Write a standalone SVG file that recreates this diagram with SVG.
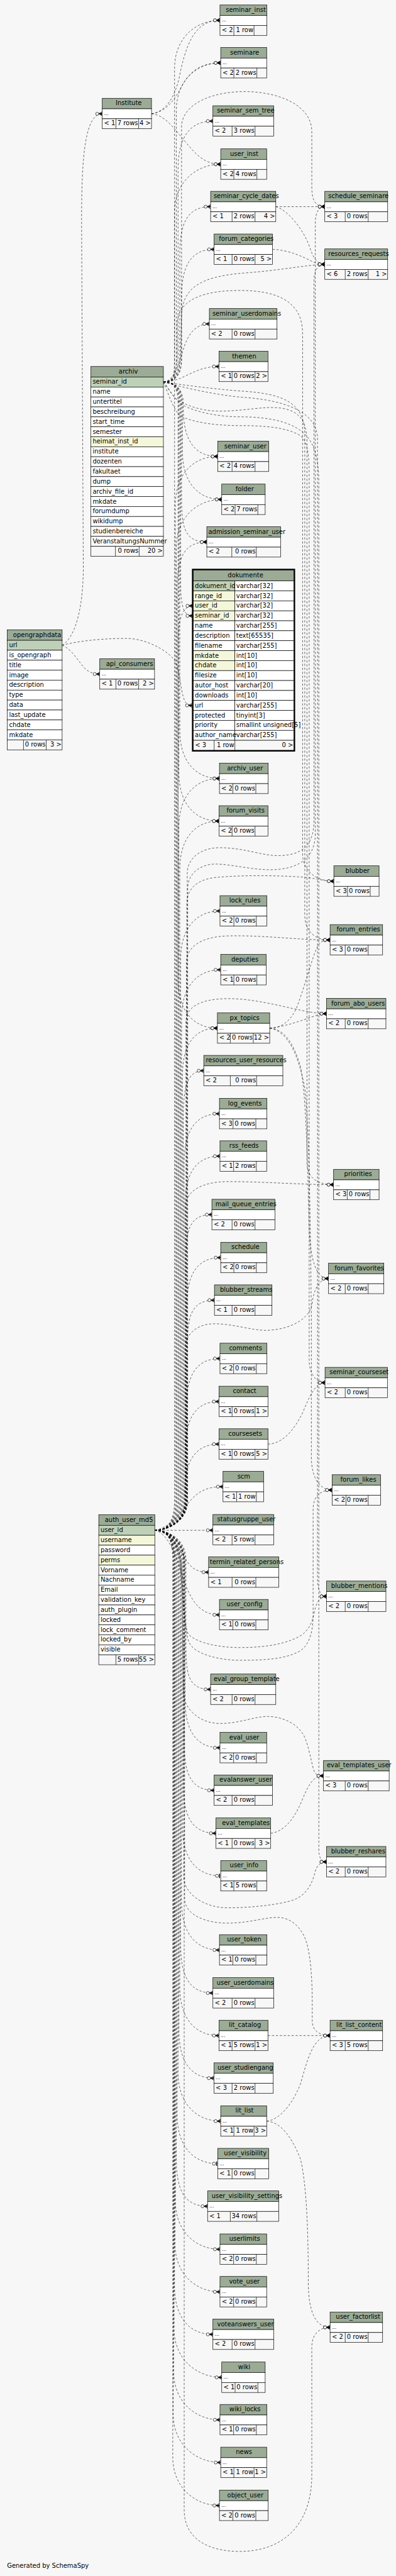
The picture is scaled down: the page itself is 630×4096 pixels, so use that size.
<svg xmlns="http://www.w3.org/2000/svg" width="630" height="4096" viewBox="0 0 630 4096">
<style>
.h{fill:#9bab96;stroke:#000;stroke-width:1}
.b{fill:#fff;stroke:#000;stroke-width:1}
.k{fill:#bed1b8;stroke:#000;stroke-width:1}
.y{fill:#f4f7da;stroke:#000;stroke-width:1}
.f{fill:#f7f7f7;stroke:#000;stroke-width:1}
.s{stroke:#000;fill:none;stroke-width:1}
text{font-family:"DejaVu Sans","Liberation Sans",sans-serif;font-size:14.3px;fill:#000}
.d{font-size:11px}
.e{text-anchor:end}
.c{fill:none;stroke:#000;stroke-width:0.85;stroke-dasharray:5 4;marker-end:url(#cr)}
.o{marker-end:url(#on)}
</style>
<defs>
<marker id="cr" markerUnits="userSpaceOnUse" viewBox="-18 -6 19 12" refX="0" refY="0" markerWidth="19" markerHeight="12" orient="auto" overflow="visible">
<path d="M0,-4.5 L-8,0 L0,4.5 M-8,0 H0" fill="none" stroke="#000" stroke-width="1.3"/>
<path d="M-1,-2.5 L-7,0 L-1,2.5Z" fill="#000"/>
<circle cx="-11.5" cy="0" r="3.5" fill="#fff" stroke="#000" stroke-width="1"/>
</marker>
<marker id="on" markerUnits="userSpaceOnUse" viewBox="-18 -6 19 12" refX="0" refY="0" markerWidth="19" markerHeight="12" orient="auto" overflow="visible">
<path d="M-2.5,-5 V5" fill="none" stroke="#000" stroke-width="2"/>
<circle cx="-8.5" cy="0" r="3.5" fill="#fff" stroke="#000" stroke-width="1"/>
</marker>
</defs>
<rect x="0" y="0" width="630" height="4096" fill="#f7f7f7"/>
<g transform="scale(0.69767)">
<g id="connectors">
<path class="c" d="M372.6,870.6 C395,870.6 398,860 398,820 L398,156.3 C398,86.3 446.6,46.3 501.6,46.3"/>
<path class="c" d="M372.6,870.6 C395,870.6 402,860 402,820 L402,253.3 C402,183.3 448.3,143.3 503.3,143.3"/>
<path class="c" d="M372.6,870.6 C395,870.6 406,860 406,820 L406,386 C406,316 430.5,276 485.5,276"/>
<path class="c" d="M372.6,870.6 C395,870.6 410,860 410,820 L410,581 C410,511 425.3,471 480.3,471"/>
<path class="c" d="M372.6,870.6 C395,870.6 414,860 414,820 L414,678.3 C414,608.3 433.3,568.3 488.3,568.3"/>
<path class="c" d="M372.6,870.6 C400,868 410,820 420,790 C432,755 450,738.3 477.4,738.3"/>
<path class="c" d="M372.6,870.6 C420,870 440,835.3 499.3,835.3"/>
<path class="c" d="M372.6,870.6 C395,870.6 418,882 418,920 L418,930.3 C418,1000.3 441.4,1040.3 496.4,1040.3"/>
<path class="c" d="M372.6,870.6 C395,870.6 416,882 416,920 L416,1028.3 C416,1098.3 450.6,1138.3 505.6,1138.3"/>
<path class="c" d="M372.6,870.6 C395,870.6 414,882 414,920 L414,1125.3 C414,1195.3 416.6,1235.3 471.6,1235.3"/>
<path class="c" d="M372.6,870.6 C395,870.6 412,882 412,920 L412,1330 C412,1385 420,1403.6 439,1403.6"/>
<path class="c" d="M372.6,870.6 C395,870.6 410,882 410,920 L410,1664.3 C410,1734.3 445.4,1774.3 500.4,1774.3"/>
<path class="c" d="M372.6,870.6 C395,870.6 408,882 408,920 L408,1761.3 C408,1831.3 444.3,1871.3 499.3,1871.3"/>
<path class="c" d="M372.6,870.6 C395,870.6 406,882 406,920 L406,2233.3 C406,2303.3 440.8,2343.3 495.8,2343.3"/>
<path class="c" d="M372.6,870.6 C397,870.6 414,855 414,815 L414,290 C414,180 711,180 711,300 L711,425 C711,455 718,471 740.6,471"/>
<path class="c" d="M372.6,870.6 C397,870.6 412,850 412,800 L414,720 C416,660 450,630 560,622 C640,616 690,605 740.6,602.3"/>
<path class="c" d="M372.6,870.6 C395,870.6 404,850 404,800 L404,740 C404,680 470,662 547,662 C620,662 690,680 690,760 L690,1945 C690,1985 720,2008.3 761.3,2008.3"/>
<path class="c" d="M372.6,870.6 C420,878 500,888 560,892 C640,898 695,915 695,990 L695,2085 C695,2120 715,2142.3 752.7,2142.3"/>
<path class="c" d="M372.6,870.6 C385,885 395,910 415,917 C440,930 470,937 500,937 C560,937 600,925 640,930 C680,936 700,955 700,1010 L700,2650 C700,2685 725,2700 760.7,2700"/>
<path class="c" d="M372.6,870.6 C385,900 400,945 415,950 C450,965 500,970 547,970 C610,970 650,975 680,990 C700,1000 705,1030 705,1080 L705,3100 C705,3130 720,3151.3 741.2,3151.3"/>
<path class="c" d="M372.6,870.6 C420,884 500,902 560,906 C640,912 724,935 724,1000 L724,3595 C724,3622 730,3638.3 744.6,3638.3"/>
<path class="c" d="M372.6,870.6 C390,892 400,915 420,925 C450,940 500,950 547,950 C610,950 660,960 690,985 C715,1005 727,1040 727,1100 L727,4215 C727,4233 732,4243.3 744.6,4243.3"/>
<path class="c" d="M353,3487.7 C380,3487.7 398,3470 398,3420 L398,484.3 C398,414.3 448.3,374.3 503.3,374.3"/>
<path class="c" d="M353,3487.7 C380,3487.7 400,3470 400,3420 L400,1150.3 C400,1080.3 441.4,1040.3 496.4,1040.3"/>
<path class="c" d="M353,3487.7 C380,3487.7 402,3470 402,3420 L402,1248.3 C402,1178.3 450.6,1138.3 505.6,1138.3"/>
<path class="c" d="M353,3487.7 C380,3487.7 404,3470 404,3420 L404,1345.3 C404,1275.3 416.6,1235.3 471.6,1235.3"/>
<path class="c" d="M353,3487.7 C380,3487.7 406,3470 406,3420 L406,1460 C406,1405 420,1380.8 439,1380.8"/>
<path class="c" d="M353,3487.7 C380,3487.7 408,3470 408,3420 L408,1884.3 C408,1814.3 445.4,1774.3 500.4,1774.3"/>
<path class="c" d="M353,3487.7 C380,3487.7 410,3470 410,3420 L410,1981.3 C410,1911.3 444.3,1871.3 499.3,1871.3"/>
<path class="c" d="M353,3487.7 C380,3487.7 412,3470 412,3420 L412,2186.3 C412,2116.3 446.6,2076.3 501.6,2076.3"/>
<path class="c" d="M353,3487.7 C380,3487.7 414,3470 414,3420 L414,2320.3 C414,2250.3 448.3,2210.3 503.3,2210.3"/>
<path class="c" d="M353,3487.7 C380,3487.7 416,3470 416,3420 L416,2453.3 C416,2383.3 440.8,2343.3 495.8,2343.3"/>
<path class="c" d="M353,3487.7 C380,3487.7 418,3470 418,3420 L418,2550.3 C418,2480.3 425,2440.3 464.7,2440.3"/>
<path class="c" d="M353,3487.7 C380,3487.7 420,3470 420,3420 L420,2648.3 C420,2578.3 445.4,2538.3 500.4,2538.3"/>
<path class="c" d="M353,3487.7 C380,3487.7 422,3470 422,3420 L422,2745 C422,2675 446.6,2635 501.6,2635"/>
<path class="c" d="M353,3487.7 C380,3487.7 424,3470 424,3420 L424,2878.3 C424,2808.3 428.2,2768.3 483.2,2768.3"/>
<path class="c" d="M353,3487.7 C380,3487.7 426,3470 426,3420 L426,2976.3 C426,2906.3 448.3,2866.3 503.3,2866.3"/>
<path class="c" d="M353,3487.7 C380,3487.7 427,3470 427,3420 L427,3073.3 C427,3003.3 434,2963.3 489,2963.3"/>
<path class="c" d="M353,3487.7 C380,3487.7 425,3470 425,3420 L425,3206.3 C425,3136.3 446.6,3096.3 501.6,3096.3"/>
<path class="c" d="M353,3487.7 C380,3487.7 423,3470 423,3420 L423,3304.3 C423,3234.3 444.3,3194.3 499.3,3194.3"/>
<path class="c" d="M353,3487.7 C380,3487.7 421,3470 421,3420 L421,3401.3 C421,3331.3 444.3,3291.3 499.3,3291.3"/>
<path class="c" d="M353,3487.7 C390,3480 410,3450 430,3425 C450,3400 470,3388.3 508.5,3388.3"/>
<path class="c" d="M353,3487.7 L485.5,3487.7"/>
<path class="c" d="M353,3487.7 C395,3492 415,3545 432,3566 C445,3580 458,3583.3 475.7,3583.3"/>
<path class="c" d="M353,3487.7 C390,3495 408,3570 422,3610 C440,3655 460,3680.3 500.4,3680.3"/>
<path class="c" d="M353,3487.7 C380,3487.7 424,3505 424,3555 L424,3740.3 C424,3810.3 425.3,3850.3 480.3,3850.3"/>
<path class="c" d="M353,3487.7 C380,3487.7 422,3505 422,3555 L422,3873.3 C422,3943.3 446.6,3983.3 501.6,3983.3"/>
<path class="c" d="M353,3487.7 C380,3487.7 420,3505 420,3555 L420,3970.3 C420,4040.3 433.3,4080.3 488.3,4080.3"/>
<path class="c" d="M353,3487.7 C380,3487.7 418,3505 418,3555 L418,4068.3 C418,4138.3 437.4,4178.3 492.4,4178.3"/>
<path class="c o" d="M353,3487.7 C380,3487.7 416,3505 416,3555 L416,4165.3 C416,4235.3 448.3,4275.3 503.3,4275.3"/>
<path class="c" d="M353,3487.7 C380,3487.7 414,3505 414,3555 L414,4334.3 C414,4404.3 445.4,4444.3 500.4,4444.3"/>
<path class="c" d="M353,3487.7 C380,3487.7 412,3505 412,3555 L412,4432.3 C412,4502.3 430.5,4542.3 485.5,4542.3"/>
<path class="c" d="M353,3487.7 C380,3487.7 410,3505 410,3555 L410,4529.3 C410,4599.3 444.3,4639.3 499.3,4639.3"/>
<path class="c" d="M353,3487.7 C380,3487.7 408,3505 408,3555 L408,4626.3 C408,4696.3 432.8,4736.3 487.8,4736.3"/>
<path class="c" d="M353,3487.7 C380,3487.7 406,3505 406,3555 L406,4724.3 C406,4794.3 448.3,4834.3 503.3,4834.3"/>
<path class="c o" d="M353,3487.7 C380,3487.7 404,3505 404,3555 L404,4821.3 C404,4891.3 441.4,4931.3 496.4,4931.3"/>
<path class="c" d="M353,3487.7 C380,3487.7 402,3505 402,3555 L402,4918.3 C402,4988.3 418.4,5028.3 473.4,5028.3"/>
<path class="c" d="M353,3487.7 C380,3487.7 400,3505 400,3555 L400,5016.3 C400,5086.3 446.6,5126.3 501.6,5126.3"/>
<path class="c" d="M353,3487.7 C380,3487.7 399,3505 399,3555 L399,5113.3 C399,5183.3 446.6,5223.3 501.6,5223.3"/>
<path class="c" d="M353,3487.7 C380,3487.7 398,3505 398,3555 L398,5210.3 C398,5280.3 430.5,5320.3 485.5,5320.3"/>
<path class="c" d="M353,3487.7 C380,3487.7 397,3505 397,3555 L397,5308.3 C397,5378.3 450.6,5418.3 505.6,5418.3"/>
<path class="c" d="M353,3487.7 C380,3487.7 396,3505 396,3555 L396,5405 C396,5475 446.6,5515 501.6,5515"/>
<path class="c" d="M353,3487.7 C380,3487.7 395,3505 395,3555 L395,5502.3 C395,5572.3 448.3,5612.3 503.3,5612.3"/>
<path class="c" d="M353,3487.7 C380,3487.7 394,3505 394,3555 L394,5600.3 C394,5670.3 445.4,5710.3 500.4,5710.3"/>
<path class="c" d="M353,3487.7 C380,3487.7 428,3470 428,3420 L428,2025 C428,1995 450,1975 480,1970 C510,1966 560,1980 605,1982 C650,1984 719,1975 719,1900 L719,510 C719,485 726,471 740.6,471"/>
<path class="c" d="M353,3487.7 C380,3487.7 427,3470 427,3420 L427,1990 C427,1955 460,1932 500,1932 C560,1932 600,1952 640,1950 C690,1948 716,1925 716,1870 L716,640 C716,615 726,602.3 740.6,602.3"/>
<path class="c" d="M353,3487.7 C380,3487.7 426,3470 426,3420 L426,2060 C426,2025 450,2005 490,2000 C560,1993 660,1996 700,2000 C725,2003 742,2008.3 761.3,2008.3"/>
<path class="c" d="M353,3487.7 C380,3487.7 425,3470 425,3420 L425,2195 C425,2160 455,2135 520,2133 C600,2131 680,2142.3 752.7,2142.3"/>
<path class="c" d="M353,3487.7 C380,3487.7 424,3470 424,3420 L424,2330 C424,2295 455,2277 518,2276 C600,2275 690,2310.3 744.6,2310.3"/>
<path class="c" d="M353,3487.7 C380,3487.7 423,3470 423,3420 L423,2750 C423,2715 460,2693 520,2693 C600,2693 690,2700 760.7,2700"/>
<path class="c" d="M353,3487.7 C380,3487.7 422,3470 422,3420 L422,3075 C422,3040 450,3017 489,3017 C530,3017 575,3032 605,3032 C645,3032 705,3015 712,2970 C716,2935 730,2914 749.2,2914"/>
<path class="c" d="M353,3487.7 C380,3487.7 405,3510 412,3560 C420,3640 420,3720 432,3745 C445,3770 500,3784 547,3784 C610,3784 650,3780 680,3765 C700,3755 714,3730 714,3680 L714,3440 C714,3410 730,3396 757.3,3396"/>
<path class="c" d="M353,3487.7 C380,3487.7 403,3510 410,3560 C417,3630 418,3705 430,3725 C450,3745 500,3755 547,3755 C610,3755 660,3745 690,3725 C705,3712 712,3698 716,3678 C720,3655 728,3638.3 744.6,3638.3"/>
<path class="c" d="M353,3487.7 C380,3487.7 413,3510 415,3580 L418,3860 C422,3900 460,3928 501,3928 C547,3928 580,3912 610,3912 C645,3912 685,3930 697,3965 C708,3995 712,4030 718,4040 C722,4046 728,4047.3 737.7,4047.3"/>
<path class="c" d="M353,3487.7 C380,3487.7 419,3510 419,3560 L419,4280 C422,4320 470,4348 518,4348 C580,4348 640,4340 670,4330 C700,4318 712,4292 718,4268 C722,4252 730,4243.3 744.6,4243.3"/>
<path class="c" d="M353,3487.7 C380,3487.7 421,3510 421,3560 L421,4330 C424,4365 470,4383 518,4383 C570,4383 600,4370 633,4370 C665,4370 690,4395 700,4430 C710,4470 712,4520 712,4570 L712,4605 C712,4628 728,4639.3 752.7,4639.3"/>
<path class="c" d="M353,3487.7 C380,3487.7 420,3510 420,3560 L420,5720 C420,5790 480,5815 547,5815 C640,5815 711,5760 711,5640 L711,5350 C711,5320 728,5304.3 752.7,5304.3"/>
<path class="c" d="M628.9,471 L740.6,471"/>
<path class="c" d="M628.9,471 C655,478 690,520 705,560 C713,585 722,602.3 740.6,602.3"/>
<path class="c" d="M621.4,568.3 C660,570 690,585 710,595 C720,600 728,602.3 740.6,602.3"/>
<path class="c" d="M615,2343.3 C640,2343 660,2330 675,2300 C695,2250 712,2180 725,2155 C730,2146 740,2142.3 752.7,2142.3"/>
<path class="c" d="M615,2343.3 C650,2340 690,2325 710,2318 C725,2313 735,2310.3 744.6,2310.3"/>
<path class="c" d="M615,2343.3 C650,2345 670,2380 685,2430 C700,2500 702,2700 705,2800 C708,2870 720,2914 749.2,2914"/>
<path class="c" d="M615,2343.3 C655,2350 680,2400 695,2480 C705,2560 708,2800 710,3000 L710,3320 C710,3370 730,3396 757.3,3396"/>
<path class="c" d="M611,3291.3 C645,3290 670,3260 690,3220 C705,3185 718,3151.3 741.2,3151.3"/>
<path class="c" d="M617.3,4178.3 C645,4175 670,4150 690,4100 C705,4065 715,4047.3 737.7,4047.3"/>
<path class="c" d="M611,4639.3 L752.7,4639.3"/>
<path class="c" d="M608.1,4834.3 C635,4832 665,4800 685,4750 C700,4700 712,4639.3 752.7,4639.3"/>
<path class="c" d="M608.1,4834.3 C640,4836 665,4870 685,4920 C700,4980 703,5100 703,5200 C703,5270 720,5304.3 752.7,5304.3"/>
<path class="c" d="M345.5,259.3 C380,254 398,220 408,180 C422,110 440,46.3 501.6,46.3"/>
<path class="c" d="M345.5,259.3 C380,255 400,225 415,195 C435,160 460,143.3 503.3,143.3"/>
<path class="c" d="M345.5,259.3 C375,262 395,290 420,320 C445,350 465,374.3 503.3,374.3"/>
<path class="c" d="M141.7,1470.6 C160,1460 188,1420 190,1300 L186,500 C186,350 195,259.3 233.2,259.3"/>
<path class="c" d="M141.7,1470.6 C165,1480 180,1510 195,1525 C205,1533 215,1536.3 227.5,1536.3"/>
<path class="c" d="M141.7,1470.6 C190,1458 250,1455 288,1455 C330,1455 380,1480 398,1505 C412,1530 412,1590 425,1603 C430,1607 434,1607.7 438,1607.7"/>
</g>
<g id="Institute"><rect class="h" x="233.2" y="224" width="112.3" height="24"/><text x="263.8" y="240">Institute</text><rect class="b" x="233.2" y="248" width="112.3" height="22.7"/><text class="d" x="237.2" y="262">...</text><rect class="f" x="233.2" y="270.7" width="112.3" height="22.7"/><path class="s" d="M264.3,270.7v22.7M316.2,270.7v22.7"/><text x="237.2" y="285.7">&lt; 1</text><text class="e" x="314.7" y="285.7">7 rows</text><text class="e" x="344" y="285.7">4 &gt;</text></g>
<g id="api_consumers"><rect class="h" x="227.5" y="1501.3" width="124.9" height="24"/><text x="241.9" y="1517.3">api_consumers</text><rect class="b" x="227.5" y="1525.3" width="124.9" height="22.7"/><text class="d" x="231.5" y="1539.3">...</text><rect class="f" x="227.5" y="1548" width="124.9" height="22.7"/><path class="s" d="M264.3,1548v22.7M316.2,1548v22.7"/><text x="231.5" y="1563">&lt; 1</text><text class="e" x="314.7" y="1563">0 rows</text><text class="e" x="350.9" y="1563">2 &gt;</text></g>
<g id="archiv"><rect class="h" x="207.3" y="835.3" width="165.3" height="24"/><text x="270.7" y="851.3">archiv</text>
<rect class="k" x="207.3" y="859.3" width="165.3" height="22.7"/><text x="211.3" y="875">seminar_id</text>
<rect class="b" x="207.3" y="882" width="165.3" height="22.7"/><text x="211.3" y="897.7">name</text>
<rect class="b" x="207.3" y="904.7" width="165.3" height="22.7"/><text x="211.3" y="920.4">untertitel</text>
<rect class="b" x="207.3" y="927.4" width="165.3" height="22.7"/><text x="211.3" y="943.1">beschreibung</text>
<rect class="b" x="207.3" y="950.1" width="165.3" height="22.7"/><text x="211.3" y="965.8">start_time</text>
<rect class="b" x="207.3" y="972.8" width="165.3" height="22.7"/><text x="211.3" y="988.5">semester</text>
<rect class="y" x="207.3" y="995.5" width="165.3" height="22.7"/><text x="211.3" y="1011.2">heimat_inst_id</text>
<rect class="b" x="207.3" y="1018.2" width="165.3" height="22.7"/><text x="211.3" y="1033.9">institute</text>
<rect class="b" x="207.3" y="1040.9" width="165.3" height="22.7"/><text x="211.3" y="1056.6">dozenten</text>
<rect class="b" x="207.3" y="1063.6" width="165.3" height="22.7"/><text x="211.3" y="1079.3">fakultaet</text>
<rect class="b" x="207.3" y="1086.3" width="165.3" height="22.7"/><text x="211.3" y="1102">dump</text>
<rect class="b" x="207.3" y="1109" width="165.3" height="22.7"/><text x="211.3" y="1124.7">archiv_file_id</text>
<rect class="b" x="207.3" y="1131.7" width="165.3" height="22.7"/><text x="211.3" y="1147.4">mkdate</text>
<rect class="b" x="207.3" y="1154.4" width="165.3" height="22.7"/><text x="211.3" y="1170.1">forumdump</text>
<rect class="b" x="207.3" y="1177.1" width="165.3" height="22.7"/><text x="211.3" y="1192.8">wikidump</text>
<rect class="b" x="207.3" y="1199.8" width="165.3" height="22.7"/><text x="211.3" y="1215.5">studienbereiche</text>
<rect class="b" x="207.3" y="1222.5" width="165.3" height="22.7"/><text x="211.3" y="1238.2">VeranstaltungsNummer</text>
<rect class="f" x="207.3" y="1245.2" width="165.3" height="22.7"/><path class="s" d="M263.2,1245.2v22.7M317.3,1245.2v22.7"/><text class="e" x="315.8" y="1260.2">0 rows</text><text class="e" x="371.1" y="1260.2">20 &gt;</text></g>
<g id="opengraphdata"><rect class="h" x="16.7" y="1435.3" width="125" height="24"/><text x="29.9" y="1451.3">opengraphdata</text>
<rect class="k" x="16.7" y="1459.3" width="125" height="22.7"/><text x="20.7" y="1475">url</text>
<rect class="b" x="16.7" y="1482" width="125" height="22.7"/><text x="20.7" y="1497.7">is_opengraph</text>
<rect class="b" x="16.7" y="1504.7" width="125" height="22.7"/><text x="20.7" y="1520.4">title</text>
<rect class="b" x="16.7" y="1527.4" width="125" height="22.7"/><text x="20.7" y="1543.1">image</text>
<rect class="b" x="16.7" y="1550.1" width="125" height="22.7"/><text x="20.7" y="1565.8">description</text>
<rect class="b" x="16.7" y="1572.8" width="125" height="22.7"/><text x="20.7" y="1588.5">type</text>
<rect class="b" x="16.7" y="1595.5" width="125" height="22.7"/><text x="20.7" y="1611.2">data</text>
<rect class="b" x="16.7" y="1618.2" width="125" height="22.7"/><text x="20.7" y="1633.9">last_update</text>
<rect class="b" x="16.7" y="1640.9" width="125" height="22.7"/><text x="20.7" y="1656.6">chdate</text>
<rect class="b" x="16.7" y="1663.6" width="125" height="22.7"/><text x="20.7" y="1679.3">mkdate</text>
<rect class="f" x="16.7" y="1686.3" width="125" height="22.7"/><path class="s" d="M53.6,1686.3v22.7M105.4,1686.3v22.7"/><text class="e" x="103.9" y="1701.3">0 rows</text><text class="e" x="140.2" y="1701.3">3 &gt;</text></g>
<g id="auth_user_md5"><rect class="h" x="225.2" y="3452.3" width="127.8" height="24"/><text x="239" y="3468.3">auth_user_md5</text>
<rect class="k" x="225.2" y="3476.3" width="127.8" height="22.7"/><text x="229.2" y="3492">user_id</text>
<rect class="y" x="225.2" y="3499" width="127.8" height="22.7"/><text x="229.2" y="3514.7">username</text>
<rect class="b" x="225.2" y="3521.7" width="127.8" height="22.7"/><text x="229.2" y="3537.4">password</text>
<rect class="y" x="225.2" y="3544.4" width="127.8" height="22.7"/><text x="229.2" y="3560.1">perms</text>
<rect class="b" x="225.2" y="3567.1" width="127.8" height="22.7"/><text x="229.2" y="3582.8">Vorname</text>
<rect class="b" x="225.2" y="3589.8" width="127.8" height="22.7"/><text x="229.2" y="3605.5">Nachname</text>
<rect class="b" x="225.2" y="3612.5" width="127.8" height="22.7"/><text x="229.2" y="3628.2">Email</text>
<rect class="b" x="225.2" y="3635.2" width="127.8" height="22.7"/><text x="229.2" y="3650.9">validation_key</text>
<rect class="b" x="225.2" y="3657.9" width="127.8" height="22.7"/><text x="229.2" y="3673.6">auth_plugin</text>
<rect class="b" x="225.2" y="3680.6" width="127.8" height="22.7"/><text x="229.2" y="3696.3">locked</text>
<rect class="b" x="225.2" y="3703.3" width="127.8" height="22.7"/><text x="229.2" y="3719">lock_comment</text>
<rect class="b" x="225.2" y="3726" width="127.8" height="22.7"/><text x="229.2" y="3741.7">locked_by</text>
<rect class="b" x="225.2" y="3748.7" width="127.8" height="22.7"/><text x="229.2" y="3764.4">visible</text>
<rect class="f" x="225.2" y="3771.4" width="127.8" height="22.7"/><path class="s" d="M264.3,3771.4v22.7M316.2,3771.4v22.7"/><text class="e" x="314.7" y="3786.4">5 rows</text><text class="e" x="351.5" y="3786.4">55 &gt;</text></g>
<g id="dokumente"><rect class="h" x="440.7" y="1299.3" width="229.3" height="24.7"/><text x="519.4" y="1315.8">dokumente</text>
<rect class="k" x="440.7" y="1324" width="94.9" height="22.7"/><rect class="b" x="535.6" y="1324" width="134.4" height="22.7"/><text x="444.5" y="1339.7">dokument_id</text><text x="538.6" y="1339.7">varchar[32]</text>
<rect class="y" x="440.7" y="1346.7" width="94.9" height="22.7"/><rect class="b" x="535.6" y="1346.7" width="134.4" height="22.7"/><text x="444.5" y="1362.4">range_id</text><text x="538.6" y="1362.4">varchar[32]</text>
<rect class="y" x="440.7" y="1369.4" width="94.9" height="22.7"/><rect class="b" x="535.6" y="1369.4" width="134.4" height="22.7"/><text x="444.5" y="1385.1">user_id</text><text x="538.6" y="1385.1">varchar[32]</text>
<rect class="y" x="440.7" y="1392.1" width="94.9" height="22.7"/><rect class="b" x="535.6" y="1392.1" width="134.4" height="22.7"/><text x="444.5" y="1407.8">seminar_id</text><text x="538.6" y="1407.8">varchar[32]</text>
<rect class="b" x="440.7" y="1414.8" width="94.9" height="22.7"/><rect class="b" x="535.6" y="1414.8" width="134.4" height="22.7"/><text x="444.5" y="1430.5">name</text><text x="538.6" y="1430.5">varchar[255]</text>
<rect class="b" x="440.7" y="1437.5" width="94.9" height="22.7"/><rect class="b" x="535.6" y="1437.5" width="134.4" height="22.7"/><text x="444.5" y="1453.2">description</text><text x="538.6" y="1453.2">text[65535]</text>
<rect class="b" x="440.7" y="1460.2" width="94.9" height="22.7"/><rect class="b" x="535.6" y="1460.2" width="134.4" height="22.7"/><text x="444.5" y="1475.9">filename</text><text x="538.6" y="1475.9">varchar[255]</text>
<rect class="y" x="440.7" y="1482.9" width="94.9" height="22.7"/><rect class="b" x="535.6" y="1482.9" width="134.4" height="22.7"/><text x="444.5" y="1498.6">mkdate</text><text x="538.6" y="1498.6">int[10]</text>
<rect class="y" x="440.7" y="1505.6" width="94.9" height="22.7"/><rect class="b" x="535.6" y="1505.6" width="134.4" height="22.7"/><text x="444.5" y="1521.3">chdate</text><text x="538.6" y="1521.3">int[10]</text>
<rect class="b" x="440.7" y="1528.3" width="94.9" height="22.7"/><rect class="b" x="535.6" y="1528.3" width="134.4" height="22.7"/><text x="444.5" y="1544">filesize</text><text x="538.6" y="1544">int[10]</text>
<rect class="b" x="440.7" y="1551" width="94.9" height="22.7"/><rect class="b" x="535.6" y="1551" width="134.4" height="22.7"/><text x="444.5" y="1566.7">autor_host</text><text x="538.6" y="1566.7">varchar[20]</text>
<rect class="b" x="440.7" y="1573.7" width="94.9" height="22.7"/><rect class="b" x="535.6" y="1573.7" width="134.4" height="22.7"/><text x="444.5" y="1589.4">downloads</text><text x="538.6" y="1589.4">int[10]</text>
<rect class="b" x="440.7" y="1596.4" width="94.9" height="22.7"/><rect class="b" x="535.6" y="1596.4" width="134.4" height="22.7"/><text x="444.5" y="1612.1">url</text><text x="538.6" y="1612.1">varchar[255]</text>
<rect class="b" x="440.7" y="1619.1" width="94.9" height="22.7"/><rect class="b" x="535.6" y="1619.1" width="134.4" height="22.7"/><text x="444.5" y="1634.8">protected</text><text x="538.6" y="1634.8">tinyint[3]</text>
<rect class="b" x="440.7" y="1641.8" width="94.9" height="22.7"/><rect class="b" x="535.6" y="1641.8" width="134.4" height="22.7"/><text x="444.5" y="1657.5">priority</text><text x="538.6" y="1657.5">smallint unsigned[5]</text>
<rect class="b" x="440.7" y="1664.5" width="94.9" height="22.7"/><rect class="b" x="535.6" y="1664.5" width="134.4" height="22.7"/><text x="444.5" y="1680.2">author_name</text><text x="538.6" y="1680.2">varchar[255]</text>
<rect class="f" x="440.7" y="1687.2" width="229.3" height="22.7"/><path class="s" d="M488.3,1687.2v22.7M535.6,1687.2v22.7"/><text x="444.7" y="1702.2">&lt; 3</text><text class="e" x="534.1" y="1702.2">1 row</text><text class="e" x="668.5" y="1702.2">0 &gt;</text>
<rect x="439.2" y="1297.8" width="232.3" height="413.6" fill="none" stroke="#000" stroke-width="3"/></g>
<g id="seminar_inst"><rect class="h" x="501.6" y="11.3" width="107.1" height="24"/><text x="515" y="27.3">seminar_inst</text><rect class="b" x="501.6" y="35.3" width="107.1" height="22.7"/><text class="d" x="505.6" y="49.3">...</text><rect class="f" x="501.6" y="58" width="107.1" height="22.7"/><path class="s" d="M533.3,58v22.7M579.3,58v22.7"/><text x="505.6" y="73">&lt; 2</text><text class="e" x="577.8" y="73">1 row</text></g>
<g id="seminare"><rect class="h" x="503.3" y="108.3" width="104.8" height="24"/><text x="524.6" y="124.3">seminare</text><rect class="b" x="503.3" y="132.3" width="104.8" height="22.7"/><text class="d" x="507.3" y="146.3">...</text><rect class="f" x="503.3" y="155" width="104.8" height="22.7"/><path class="s" d="M533.3,155v22.7M585.7,155v22.7"/><text x="507.3" y="170">&lt; 2</text><text class="e" x="584.2" y="170">2 rows</text></g>
<g id="seminar_sem_tree"><rect class="h" x="485.5" y="241" width="138.7" height="24"/><text x="494.7" y="257">seminar_sem_tree</text><rect class="b" x="485.5" y="265" width="138.7" height="22.7"/><text class="d" x="489.5" y="279">...</text><rect class="f" x="485.5" y="287.7" width="138.7" height="22.7"/><path class="s" d="M529.2,287.7v22.7M581.6,287.7v22.7"/><text x="489.5" y="302.7">&lt; 2</text><text class="e" x="580.1" y="302.7">3 rows</text></g>
<g id="user_inst"><rect class="h" x="503.3" y="339.3" width="104.8" height="24"/><text x="524.6" y="355.3">user_inst</text><rect class="b" x="503.3" y="363.3" width="104.8" height="22.7"/><text class="d" x="507.3" y="377.3">...</text><rect class="f" x="503.3" y="386" width="104.8" height="22.7"/><path class="s" d="M533.3,386v22.7M585.7,386v22.7"/><text x="507.3" y="401">&lt; 2</text><text class="e" x="584.2" y="401">4 rows</text></g>
<g id="seminar_cycle_dates"><rect class="h" x="480.3" y="436" width="148.6" height="24"/><text x="487.2" y="452">seminar_cycle_dates</text><rect class="b" x="480.3" y="460" width="148.6" height="22.7"/><text class="d" x="484.3" y="474">...</text><rect class="f" x="480.3" y="482.7" width="148.6" height="22.7"/><path class="s" d="M529.2,482.7v22.7M581.6,482.7v22.7"/><text x="484.3" y="497.7">&lt; 1</text><text class="e" x="580.1" y="497.7">2 rows</text><text class="e" x="627.4" y="497.7">4 &gt;</text></g>
<g id="forum_categories"><rect class="h" x="488.3" y="533.3" width="133.1" height="24"/><text x="499.3" y="549.3">forum_categories</text><rect class="b" x="488.3" y="557.3" width="133.1" height="22.7"/><text class="d" x="492.3" y="571.3">...</text><rect class="f" x="488.3" y="580" width="133.1" height="22.7"/><path class="s" d="M529.2,580v22.7M581.6,580v22.7"/><text x="492.3" y="595">&lt; 1</text><text class="e" x="580.1" y="595">0 rows</text><text class="e" x="619.9" y="595">5 &gt;</text></g>
<g id="seminar_userdomains"><rect class="h" x="477.4" y="703.3" width="154.3" height="24"/><text x="484.3" y="719.3">seminar_userdomains</text><rect class="b" x="477.4" y="727.3" width="154.3" height="22.7"/><text class="d" x="481.4" y="741.3">...</text><rect class="f" x="477.4" y="750" width="154.3" height="22.7"/><path class="s" d="M529.2,750v22.7M581.6,750v22.7"/><text x="481.4" y="765">&lt; 2</text><text class="e" x="580.1" y="765">0 rows</text></g>
<g id="themen"><rect class="h" x="499.3" y="800.3" width="111.7" height="24"/><text x="529.2" y="816.3">themen</text><rect class="b" x="499.3" y="824.3" width="111.7" height="22.7"/><text class="d" x="503.3" y="838.3">...</text><rect class="f" x="499.3" y="847" width="111.7" height="22.7"/><path class="s" d="M529.2,847v22.7M581.6,847v22.7"/><text x="503.3" y="862">&lt; 1</text><text class="e" x="580.1" y="862">0 rows</text><text class="e" x="609.5" y="862">2 &gt;</text></g>
<g id="seminar_user"><rect class="h" x="496.4" y="1005.3" width="116.3" height="24"/><text x="511.4" y="1021.3">seminar_user</text><rect class="b" x="496.4" y="1029.3" width="116.3" height="22.7"/><text class="d" x="500.4" y="1043.3">...</text><rect class="f" x="496.4" y="1052" width="116.3" height="22.7"/><path class="s" d="M529.2,1052v22.7M581.6,1052v22.7"/><text x="500.4" y="1067">&lt; 2</text><text class="e" x="580.1" y="1067">4 rows</text></g>
<g id="folder"><rect class="h" x="505.6" y="1103.3" width="99.1" height="24"/><text x="537.3" y="1119.3">folder</text><rect class="b" x="505.6" y="1127.3" width="99.1" height="22.7"/><text class="d" x="509.6" y="1141.3">...</text><rect class="f" x="505.6" y="1150" width="99.1" height="22.7"/><path class="s" d="M536.1,1150v22.7M588,1150v22.7"/><text x="509.6" y="1165">&lt; 2</text><text class="e" x="586.5" y="1165">7 rows</text></g>
<g id="admission_seminar_user"><rect class="h" x="471.6" y="1200.3" width="168.2" height="24"/><text x="475.1" y="1216.3">admission_seminar_user</text><rect class="b" x="471.6" y="1224.3" width="168.2" height="22.7"/><text class="d" x="475.6" y="1238.3">...</text><rect class="f" x="471.6" y="1247" width="168.2" height="22.7"/><path class="s" d="M528.6,1247v22.7M584.5,1247v22.7"/><text x="475.6" y="1262">&lt; 2</text><text class="e" x="583" y="1262">0 rows</text></g>
<g id="archiv_user"><rect class="h" x="500.4" y="1739.3" width="111.2" height="24"/><text x="517.7" y="1755.3">archiv_user</text><rect class="b" x="500.4" y="1763.3" width="111.2" height="22.7"/><text class="d" x="504.4" y="1777.3">...</text><rect class="f" x="500.4" y="1786" width="111.2" height="22.7"/><path class="s" d="M531,1786v22.7M583.4,1786v22.7"/><text x="504.4" y="1801">&lt; 2</text><text class="e" x="581.9" y="1801">0 rows</text></g>
<g id="forum_visits"><rect class="h" x="499.3" y="1836.3" width="111.7" height="24"/><text x="516.6" y="1852.3">forum_visits</text><rect class="b" x="499.3" y="1860.3" width="111.7" height="22.7"/><text class="d" x="503.3" y="1874.3">...</text><rect class="f" x="499.3" y="1883" width="111.7" height="22.7"/><path class="s" d="M529.2,1883v22.7M581.6,1883v22.7"/><text x="503.3" y="1898">&lt; 2</text><text class="e" x="580.1" y="1898">0 rows</text></g>
<g id="lock_rules"><rect class="h" x="501.6" y="2041.3" width="107.1" height="24"/><text x="522.9" y="2057.3">lock_rules</text><rect class="b" x="501.6" y="2065.3" width="107.1" height="22.7"/><text class="d" x="505.6" y="2079.3">...</text><rect class="f" x="501.6" y="2088" width="107.1" height="22.7"/><path class="s" d="M533.3,2088v22.7M584.5,2088v22.7"/><text x="505.6" y="2103">&lt; 2</text><text class="e" x="583" y="2103">0 rows</text></g>
<g id="deputies"><rect class="h" x="503.3" y="2175.3" width="103.7" height="24"/><text x="527.5" y="2191.3">deputies</text><rect class="b" x="503.3" y="2199.3" width="103.7" height="22.7"/><text class="d" x="507.3" y="2213.3">...</text><rect class="f" x="503.3" y="2222" width="103.7" height="22.7"/><path class="s" d="M533.3,2222v22.7M585.7,2222v22.7"/><text x="507.3" y="2237">&lt; 1</text><text class="e" x="584.2" y="2237">0 rows</text></g>
<g id="px_topics"><rect class="h" x="495.8" y="2308.3" width="119.2" height="24"/><text x="524" y="2324.3">px_topics</text><rect class="b" x="495.8" y="2332.3" width="119.2" height="22.7"/><text class="d" x="499.8" y="2346.3">...</text><rect class="f" x="495.8" y="2355" width="119.2" height="22.7"/><path class="s" d="M525.2,2355v22.7M577.6,2355v22.7"/><text x="499.8" y="2370">&lt; 2</text><text class="e" x="576.1" y="2370">0 rows</text><text class="e" x="613.5" y="2370">12 &gt;</text></g>
<g id="resources_user_resources"><rect class="h" x="464.7" y="2405.3" width="180.3" height="24"/><text x="469.3" y="2421.3">resources_user_resources</text><rect class="b" x="464.7" y="2429.3" width="180.3" height="22.7"/><text class="d" x="468.7" y="2443.3">...</text><rect class="f" x="464.7" y="2452" width="180.3" height="22.7"/><path class="s" d="M525.2,2452v22.7M585.1,2452v22.7"/><text x="468.7" y="2467">&lt; 2</text><text class="e" x="583.6" y="2467">0 rows</text></g>
<g id="log_events"><rect class="h" x="500.4" y="2503.3" width="108.3" height="24"/><text x="520" y="2519.3">log_events</text><rect class="b" x="500.4" y="2527.3" width="108.3" height="22.7"/><text class="d" x="504.4" y="2541.3">...</text><rect class="f" x="500.4" y="2550" width="108.3" height="22.7"/><path class="s" d="M531.5,2550v22.7M583.4,2550v22.7"/><text x="504.4" y="2565">&lt; 3</text><text class="e" x="581.9" y="2565">0 rows</text></g>
<g id="rss_feeds"><rect class="h" x="501.6" y="2600" width="106.5" height="24"/><text x="522.9" y="2616">rss_feeds</text><rect class="b" x="501.6" y="2624" width="106.5" height="22.7"/><text class="d" x="505.6" y="2638">...</text><rect class="f" x="501.6" y="2646.7" width="106.5" height="22.7"/><path class="s" d="M532.7,2646.7v22.7M584.5,2646.7v22.7"/><text x="505.6" y="2661.7">&lt; 1</text><text class="e" x="583" y="2661.7">2 rows</text></g>
<g id="mail_queue_entries"><rect class="h" x="483.2" y="2733.3" width="143.9" height="24"/><text x="491.2" y="2749.3">mail_queue_entries</text><rect class="b" x="483.2" y="2757.3" width="143.9" height="22.7"/><text class="d" x="487.2" y="2771.3">...</text><rect class="f" x="483.2" y="2780" width="143.9" height="22.7"/><path class="s" d="M529.2,2780v22.7M581.6,2780v22.7"/><text x="487.2" y="2795">&lt; 2</text><text class="e" x="580.1" y="2795">0 rows</text></g>
<g id="schedule"><rect class="h" x="503.3" y="2831.3" width="104.8" height="24"/><text x="527.5" y="2847.3">schedule</text><rect class="b" x="503.3" y="2855.3" width="104.8" height="22.7"/><text class="d" x="507.3" y="2869.3">...</text><rect class="f" x="503.3" y="2878" width="104.8" height="22.7"/><path class="s" d="M533.3,2878v22.7M584.5,2878v22.7"/><text x="507.3" y="2893">&lt; 2</text><text class="e" x="583" y="2893">0 rows</text></g>
<g id="blubber_streams"><rect class="h" x="489" y="2928.3" width="131.2" height="24"/><text x="501.6" y="2944.3">blubber_streams</text><rect class="b" x="489" y="2952.3" width="131.2" height="22.7"/><text class="d" x="493" y="2966.3">...</text><rect class="f" x="489" y="2975" width="131.2" height="22.7"/><path class="s" d="M529.2,2975v22.7M581.6,2975v22.7"/><text x="493" y="2990">&lt; 1</text><text class="e" x="580.1" y="2990">0 rows</text></g>
<g id="comments"><rect class="h" x="501.6" y="3061.3" width="107.1" height="24"/><text x="522.3" y="3077.3">comments</text><rect class="b" x="501.6" y="3085.3" width="107.1" height="22.7"/><text class="d" x="505.6" y="3099.3">...</text><rect class="f" x="501.6" y="3108" width="107.1" height="22.7"/><path class="s" d="M532.7,3108v22.7M584.5,3108v22.7"/><text x="505.6" y="3123">&lt; 2</text><text class="e" x="583" y="3123">0 rows</text></g>
<g id="contact"><rect class="h" x="499.3" y="3159.3" width="111.7" height="24"/><text x="531" y="3175.3">contact</text><rect class="b" x="499.3" y="3183.3" width="111.7" height="22.7"/><text class="d" x="503.3" y="3197.3">...</text><rect class="f" x="499.3" y="3206" width="111.7" height="22.7"/><path class="s" d="M529.2,3206v22.7M581.6,3206v22.7"/><text x="503.3" y="3221">&lt; 1</text><text class="e" x="580.1" y="3221">0 rows</text><text class="e" x="609.5" y="3221">1 &gt;</text></g>
<g id="coursesets"><rect class="h" x="499.3" y="3256.3" width="111.7" height="24"/><text x="520.6" y="3272.3">coursesets</text><rect class="b" x="499.3" y="3280.3" width="111.7" height="22.7"/><text class="d" x="503.3" y="3294.3">...</text><rect class="f" x="499.3" y="3303" width="111.7" height="22.7"/><path class="s" d="M529.2,3303v22.7M581.6,3303v22.7"/><text x="503.3" y="3318">&lt; 1</text><text class="e" x="580.1" y="3318">0 rows</text><text class="e" x="609.5" y="3318">5 &gt;</text></g>
<g id="scm"><rect class="h" x="508.5" y="3353.3" width="92.7" height="24"/><text x="541.3" y="3369.3">scm</text><rect class="b" x="508.5" y="3377.3" width="92.7" height="22.7"/><text class="d" x="512.5" y="3391.3">...</text><rect class="f" x="508.5" y="3400" width="92.7" height="22.7"/><path class="s" d="M539.6,3400v22.7M584.5,3400v22.7"/><text x="512.5" y="3415">&lt; 1</text><text class="e" x="583" y="3415">1 row</text></g>
<g id="statusgruppe_user"><rect class="h" x="485.5" y="3451.7" width="138.7" height="24"/><text x="495.3" y="3467.7">statusgruppe_user</text><rect class="b" x="485.5" y="3475.7" width="138.7" height="22.7"/><text class="d" x="489.5" y="3489.7">...</text><rect class="f" x="485.5" y="3498.4" width="138.7" height="22.7"/><path class="s" d="M529.2,3498.4v22.7M581.6,3498.4v22.7"/><text x="489.5" y="3513.4">&lt; 2</text><text class="e" x="580.1" y="3513.4">5 rows</text></g>
<g id="termin_related_persons"><rect class="h" x="475.7" y="3548.3" width="160.1" height="24"/><text x="478.5" y="3564.3">termin_related_persons</text><rect class="b" x="475.7" y="3572.3" width="160.1" height="22.7"/><text class="d" x="479.7" y="3586.3">...</text><rect class="f" x="475.7" y="3595" width="160.1" height="22.7"/><path class="s" d="M529.2,3595v22.7M583.4,3595v22.7"/><text x="479.7" y="3610">&lt; 1</text><text class="e" x="581.9" y="3610">0 rows</text></g>
<g id="user_config"><rect class="h" x="500.4" y="3645.3" width="111.2" height="24"/><text x="516.6" y="3661.3">user_config</text><rect class="b" x="500.4" y="3669.3" width="111.2" height="22.7"/><text class="d" x="504.4" y="3683.3">...</text><rect class="f" x="500.4" y="3692" width="111.2" height="22.7"/><path class="s" d="M531,3692v22.7M583.4,3692v22.7"/><text x="504.4" y="3707">&lt; 1</text><text class="e" x="581.9" y="3707">0 rows</text></g>
<g id="eval_group_template"><rect class="h" x="480.3" y="3815.3" width="148.6" height="24"/><text x="487.2" y="3831.3">eval_group_template</text><rect class="b" x="480.3" y="3839.3" width="148.6" height="22.7"/><text class="d" x="484.3" y="3853.3">...</text><rect class="f" x="480.3" y="3862" width="148.6" height="22.7"/><path class="s" d="M529.2,3862v22.7M581.6,3862v22.7"/><text x="484.3" y="3877">&lt; 2</text><text class="e" x="580.1" y="3877">0 rows</text></g>
<g id="eval_user"><rect class="h" x="501.6" y="3948.3" width="106.5" height="24"/><text x="522.9" y="3964.3">eval_user</text><rect class="b" x="501.6" y="3972.3" width="106.5" height="22.7"/><text class="d" x="505.6" y="3986.3">...</text><rect class="f" x="501.6" y="3995" width="106.5" height="22.7"/><path class="s" d="M532.7,3995v22.7M584.5,3995v22.7"/><text x="505.6" y="4010">&lt; 2</text><text class="e" x="583" y="4010">0 rows</text></g>
<g id="evalanswer_user"><rect class="h" x="488.3" y="4045.3" width="133.1" height="24"/><text x="500.4" y="4061.3">evalanswer_user</text><rect class="b" x="488.3" y="4069.3" width="133.1" height="22.7"/><text class="d" x="492.3" y="4083.3">...</text><rect class="f" x="488.3" y="4092" width="133.1" height="22.7"/><path class="s" d="M529.2,4092v22.7M581.6,4092v22.7"/><text x="492.3" y="4107">&lt; 2</text><text class="e" x="580.1" y="4107">0 rows</text></g>
<g id="eval_templates"><rect class="h" x="492.4" y="4143.3" width="124.9" height="24"/><text x="506.2" y="4159.3">eval_templates</text><rect class="b" x="492.4" y="4167.3" width="124.9" height="22.7"/><text class="d" x="496.4" y="4181.3">...</text><rect class="f" x="492.4" y="4190" width="124.9" height="22.7"/><path class="s" d="M529.2,4190v22.7M581.6,4190v22.7"/><text x="496.4" y="4205">&lt; 1</text><text class="e" x="580.1" y="4205">0 rows</text><text class="e" x="615.8" y="4205">3 &gt;</text></g>
<g id="user_info"><rect class="h" x="503.3" y="4240.3" width="104.8" height="24"/><text x="524" y="4256.3">user_info</text><rect class="b" x="503.3" y="4264.3" width="104.8" height="22.7"/><text class="d" x="507.3" y="4278.3">...</text><rect class="f" x="503.3" y="4287" width="104.8" height="22.7"/><path class="s" d="M533.3,4287v22.7M585.7,4287v22.7"/><text x="507.3" y="4302">&lt; 1</text><text class="e" x="584.2" y="4302">5 rows</text></g>
<g id="user_token"><rect class="h" x="500.4" y="4409.3" width="108.3" height="24"/><text x="517.7" y="4425.3">user_token</text><rect class="b" x="500.4" y="4433.3" width="108.3" height="22.7"/><text class="d" x="504.4" y="4447.3">...</text><rect class="f" x="500.4" y="4456" width="108.3" height="22.7"/><path class="s" d="M531,4456v22.7M583.4,4456v22.7"/><text x="504.4" y="4471">&lt; 1</text><text class="e" x="581.9" y="4471">0 rows</text></g>
<g id="user_userdomains"><rect class="h" x="485.5" y="4507.3" width="138.7" height="24"/><text x="494.1" y="4523.3">user_userdomains</text><rect class="b" x="485.5" y="4531.3" width="138.7" height="22.7"/><text class="d" x="489.5" y="4545.3">...</text><rect class="f" x="485.5" y="4554" width="138.7" height="22.7"/><path class="s" d="M529.2,4554v22.7M581.6,4554v22.7"/><text x="489.5" y="4569">&lt; 2</text><text class="e" x="580.1" y="4569">0 rows</text></g>
<g id="lit_catalog"><rect class="h" x="499.3" y="4604.3" width="111.7" height="24"/><text x="521.7" y="4620.3">lit_catalog</text><rect class="b" x="499.3" y="4628.3" width="111.7" height="22.7"/><text class="d" x="503.3" y="4642.3">...</text><rect class="f" x="499.3" y="4651" width="111.7" height="22.7"/><path class="s" d="M529.2,4651v22.7M581.6,4651v22.7"/><text x="503.3" y="4666">&lt; 1</text><text class="e" x="580.1" y="4666">5 rows</text><text class="e" x="609.5" y="4666">1 &gt;</text></g>
<g id="user_studiengang"><rect class="h" x="487.8" y="4701.3" width="135.3" height="24"/><text x="495.8" y="4717.3">user_studiengang</text><rect class="b" x="487.8" y="4725.3" width="135.3" height="22.7"/><text class="d" x="491.8" y="4739.3">...</text><rect class="f" x="487.8" y="4748" width="135.3" height="22.7"/><path class="s" d="M529.2,4748v22.7M581.6,4748v22.7"/><text x="491.8" y="4763">&lt; 3</text><text class="e" x="580.1" y="4763">2 rows</text></g>
<g id="lit_list"><rect class="h" x="503.3" y="4799.3" width="104.8" height="24"/><text x="536.7" y="4815.3">lit_list</text><rect class="b" x="503.3" y="4823.3" width="104.8" height="22.7"/><text class="d" x="507.3" y="4837.3">...</text><rect class="f" x="503.3" y="4846" width="104.8" height="22.7"/><path class="s" d="M533.3,4846v22.7M579.3,4846v22.7"/><text x="507.3" y="4861">&lt; 1</text><text class="e" x="577.8" y="4861">1 row</text><text class="e" x="606.6" y="4861">3 &gt;</text></g>
<g id="user_visibility"><rect class="h" x="496.4" y="4896.3" width="116.3" height="24"/><text x="510.8" y="4912.3">user_visibility</text><rect class="b" x="496.4" y="4920.3" width="116.3" height="22.7"/><text class="d" x="500.4" y="4934.3">...</text><rect class="f" x="496.4" y="4943" width="116.3" height="22.7"/><path class="s" d="M529.2,4943v22.7M581.6,4943v22.7"/><text x="500.4" y="4958">&lt; 1</text><text class="e" x="580.1" y="4958">0 rows</text></g>
<g id="user_visibility_settings"><rect class="h" x="473.4" y="4993.3" width="162.4" height="24"/><text x="482.6" y="5009.3">user_visibility_settings</text><rect class="b" x="473.4" y="5017.3" width="162.4" height="22.7"/><text class="d" x="477.4" y="5031.3">...</text><rect class="f" x="473.4" y="5040" width="162.4" height="22.7"/><path class="s" d="M525.2,5040v22.7M585.7,5040v22.7"/><text x="477.4" y="5055">&lt; 1</text><text class="e" x="584.2" y="5055">34 rows</text></g>
<g id="userlimits"><rect class="h" x="501.6" y="5091.3" width="106.5" height="24"/><text x="522.9" y="5107.3">userlimits</text><rect class="b" x="501.6" y="5115.3" width="106.5" height="22.7"/><text class="d" x="505.6" y="5129.3">...</text><rect class="f" x="501.6" y="5138" width="106.5" height="22.7"/><path class="s" d="M532.7,5138v22.7M584.5,5138v22.7"/><text x="505.6" y="5153">&lt; 2</text><text class="e" x="583" y="5153">0 rows</text></g>
<g id="vote_user"><rect class="h" x="501.6" y="5188.3" width="106.5" height="24"/><text x="522.3" y="5204.3">vote_user</text><rect class="b" x="501.6" y="5212.3" width="106.5" height="22.7"/><text class="d" x="505.6" y="5226.3">...</text><rect class="f" x="501.6" y="5235" width="106.5" height="22.7"/><path class="s" d="M532.7,5235v22.7M584.5,5235v22.7"/><text x="505.6" y="5250">&lt; 2</text><text class="e" x="583" y="5250">0 rows</text></g>
<g id="voteanswers_user"><rect class="h" x="485.5" y="5285.3" width="138.7" height="24"/><text x="495.3" y="5301.3">voteanswers_user</text><rect class="b" x="485.5" y="5309.3" width="138.7" height="22.7"/><text class="d" x="489.5" y="5323.3">...</text><rect class="f" x="485.5" y="5332" width="138.7" height="22.7"/><path class="s" d="M529.2,5332v22.7M581.6,5332v22.7"/><text x="489.5" y="5347">&lt; 2</text><text class="e" x="580.1" y="5347">0 rows</text></g>
<g id="wiki"><rect class="h" x="505.6" y="5383.3" width="99.1" height="24"/><text x="543" y="5399.3">wiki</text><rect class="b" x="505.6" y="5407.3" width="99.1" height="22.7"/><text class="d" x="509.6" y="5421.3">...</text><rect class="f" x="505.6" y="5430" width="99.1" height="22.7"/><path class="s" d="M536.1,5430v22.7M588,5430v22.7"/><text x="509.6" y="5445">&lt; 1</text><text class="e" x="586.5" y="5445">0 rows</text></g>
<g id="wiki_locks"><rect class="h" x="501.6" y="5480" width="107.1" height="24"/><text x="522.9" y="5496">wiki_locks</text><rect class="b" x="501.6" y="5504" width="107.1" height="22.7"/><text class="d" x="505.6" y="5518">...</text><rect class="f" x="501.6" y="5526.7" width="107.1" height="22.7"/><path class="s" d="M532.7,5526.7v22.7M584.5,5526.7v22.7"/><text x="505.6" y="5541.7">&lt; 1</text><text class="e" x="583" y="5541.7">0 rows</text></g>
<g id="news"><rect class="h" x="503.3" y="5577.3" width="104.8" height="24"/><text x="537.9" y="5593.3">news</text><rect class="b" x="503.3" y="5601.3" width="104.8" height="22.7"/><text class="d" x="507.3" y="5615.3">...</text><rect class="f" x="503.3" y="5624" width="104.8" height="22.7"/><path class="s" d="M533.3,5624v22.7M579.3,5624v22.7"/><text x="507.3" y="5639">&lt; 1</text><text class="e" x="577.8" y="5639">1 row</text><text class="e" x="606.6" y="5639">1 &gt;</text></g>
<g id="object_user"><rect class="h" x="500.4" y="5675.3" width="111.2" height="24"/><text x="518.3" y="5691.3">object_user</text><rect class="b" x="500.4" y="5699.3" width="111.2" height="22.7"/><text class="d" x="504.4" y="5713.3">...</text><rect class="f" x="500.4" y="5722" width="111.2" height="22.7"/><path class="s" d="M531,5722v22.7M583.4,5722v22.7"/><text x="504.4" y="5737">&lt; 2</text><text class="e" x="581.9" y="5737">0 rows</text></g>
<g id="schedule_seminare"><rect class="h" x="740.6" y="436" width="143.4" height="24"/><text x="748.6" y="452">schedule_seminare</text><rect class="b" x="740.6" y="460" width="143.4" height="22.7"/><text class="d" x="744.6" y="474">...</text><rect class="f" x="740.6" y="482.7" width="143.4" height="22.7"/><path class="s" d="M787.2,482.7v22.7M839.6,482.7v22.7"/><text x="744.6" y="497.7">&lt; 3</text><text class="e" x="838.1" y="497.7">0 rows</text></g>
<g id="resources_requests"><rect class="h" x="740.6" y="567.3" width="143.4" height="24"/><text x="748.6" y="583.3">resources_requests</text><rect class="b" x="740.6" y="591.3" width="143.4" height="22.7"/><text class="d" x="744.6" y="605.3">...</text><rect class="f" x="740.6" y="614" width="143.4" height="22.7"/><path class="s" d="M787.2,614v22.7M839.6,614v22.7"/><text x="744.6" y="629">&lt; 6</text><text class="e" x="838.1" y="629">2 rows</text><text class="e" x="882.5" y="629">1 &gt;</text></g>
<g id="blubber"><rect class="h" x="761.3" y="1973.3" width="103.1" height="24"/><text x="787.8" y="1989.3">blubber</text><rect class="b" x="761.3" y="1997.3" width="103.1" height="22.7"/><text class="d" x="765.3" y="2011.3">...</text><rect class="f" x="761.3" y="2020" width="103.1" height="22.7"/><path class="s" d="M792.4,2020v22.7M844.2,2020v22.7"/><text x="765.3" y="2035">&lt; 3</text><text class="e" x="842.7" y="2035">0 rows</text></g>
<g id="forum_entries"><rect class="h" x="752.7" y="2107.3" width="119.8" height="24"/><text x="767.6" y="2123.3">forum_entries</text><rect class="b" x="752.7" y="2131.3" width="119.8" height="22.7"/><text class="d" x="756.7" y="2145.3">...</text><rect class="f" x="752.7" y="2154" width="119.8" height="22.7"/><path class="s" d="M787.2,2154v22.7M839.6,2154v22.7"/><text x="756.7" y="2169">&lt; 3</text><text class="e" x="838.1" y="2169">0 rows</text></g>
<g id="forum_abo_users"><rect class="h" x="744.6" y="2275.3" width="135.4" height="24"/><text x="755.5" y="2291.3">forum_abo_users</text><rect class="b" x="744.6" y="2299.3" width="135.4" height="22.7"/><text class="d" x="748.6" y="2313.3">...</text><rect class="f" x="744.6" y="2322" width="135.4" height="22.7"/><path class="s" d="M787.2,2322v22.7M839.6,2322v22.7"/><text x="748.6" y="2337">&lt; 2</text><text class="e" x="838.1" y="2337">0 rows</text></g>
<g id="priorities"><rect class="h" x="760.7" y="2665" width="103.7" height="24"/><text x="784.9" y="2681">priorities</text><rect class="b" x="760.7" y="2689" width="103.7" height="22.7"/><text class="d" x="764.7" y="2703">...</text><rect class="f" x="760.7" y="2711.7" width="103.7" height="22.7"/><path class="s" d="M791.8,2711.7v22.7M843.6,2711.7v22.7"/><text x="764.7" y="2726.7">&lt; 3</text><text class="e" x="842.1" y="2726.7">0 rows</text></g>
<g id="forum_favorites"><rect class="h" x="749.2" y="2879" width="126.1" height="24"/><text x="763" y="2895">forum_favorites</text><rect class="b" x="749.2" y="2903" width="126.1" height="22.7"/><text class="d" x="753.2" y="2917">...</text><rect class="f" x="749.2" y="2925.7" width="126.1" height="22.7"/><path class="s" d="M787.2,2925.7v22.7M839.6,2925.7v22.7"/><text x="753.2" y="2940.7">&lt; 2</text><text class="e" x="838.1" y="2940.7">0 rows</text></g>
<g id="seminar_courseset"><rect class="h" x="741.2" y="3116.3" width="142.2" height="24"/><text x="751.5" y="3132.3">seminar_courseset</text><rect class="b" x="741.2" y="3140.3" width="142.2" height="22.7"/><text class="d" x="745.2" y="3154.3">...</text><rect class="f" x="741.2" y="3163" width="142.2" height="22.7"/><path class="s" d="M787.2,3163v22.7M839.6,3163v22.7"/><text x="745.2" y="3178">&lt; 2</text><text class="e" x="838.1" y="3178">0 rows</text></g>
<g id="forum_likes"><rect class="h" x="757.3" y="3361" width="110.5" height="24"/><text x="776.3" y="3377">forum_likes</text><rect class="b" x="757.3" y="3385" width="110.5" height="22.7"/><text class="d" x="761.3" y="3399">...</text><rect class="f" x="757.3" y="3407.7" width="110.5" height="22.7"/><path class="s" d="M789,3407.7v22.7M839.6,3407.7v22.7"/><text x="761.3" y="3422.7">&lt; 2</text><text class="e" x="838.1" y="3422.7">0 rows</text></g>
<g id="blubber_mentions"><rect class="h" x="744.6" y="3603.3" width="135.4" height="24"/><text x="755" y="3619.3">blubber_mentions</text><rect class="b" x="744.6" y="3627.3" width="135.4" height="22.7"/><text class="d" x="748.6" y="3641.3">...</text><rect class="f" x="744.6" y="3650" width="135.4" height="22.7"/><path class="s" d="M787.2,3650v22.7M839.6,3650v22.7"/><text x="748.6" y="3665">&lt; 2</text><text class="e" x="838.1" y="3665">0 rows</text></g>
<g id="eval_templates_user"><rect class="h" x="737.7" y="4012.3" width="149.7" height="24"/><text x="745.2" y="4028.3">eval_templates_user</text><rect class="b" x="737.7" y="4036.3" width="149.7" height="22.7"/><text class="d" x="741.7" y="4050.3">...</text><rect class="f" x="737.7" y="4059" width="149.7" height="22.7"/><path class="s" d="M787.2,4059v22.7M839.6,4059v22.7"/><text x="741.7" y="4074">&lt; 3</text><text class="e" x="838.1" y="4074">0 rows</text></g>
<g id="blubber_reshares"><rect class="h" x="744.6" y="4208.3" width="135.4" height="24"/><text x="755" y="4224.3">blubber_reshares</text><rect class="b" x="744.6" y="4232.3" width="135.4" height="22.7"/><text class="d" x="748.6" y="4246.3">...</text><rect class="f" x="744.6" y="4255" width="135.4" height="22.7"/><path class="s" d="M787.2,4255v22.7M839.6,4255v22.7"/><text x="748.6" y="4270">&lt; 2</text><text class="e" x="838.1" y="4270">0 rows</text></g>
<g id="lit_list_content"><rect class="h" x="752.7" y="4604.3" width="119.8" height="24"/><text x="767" y="4620.3">lit_list_content</text><rect class="b" x="752.7" y="4628.3" width="119.8" height="22.7"/><text class="d" x="756.7" y="4642.3">...</text><rect class="f" x="752.7" y="4651" width="119.8" height="22.7"/><path class="s" d="M787.2,4651v22.7M839.6,4651v22.7"/><text x="756.7" y="4666">&lt; 3</text><text class="e" x="838.1" y="4666">5 rows</text></g>
<g id="user_factorlist"><rect class="h" x="752.7" y="5269.3" width="119.8" height="24"/><text x="765.9" y="5285.3">user_factorlist</text><rect class="b" x="752.7" y="5293.3" width="119.8" height="22.7"/><text class="d" x="756.7" y="5307.3">...</text><rect class="f" x="752.7" y="5316" width="119.8" height="22.7"/><path class="s" d="M787.2,5316v22.7M839.6,5316v22.7"/><text x="756.7" y="5331">&lt; 2</text><text class="e" x="838.1" y="5331">0 rows</text></g>
<text x="16" y="5852">Generated by SchemaSpy</text>
</g>
</svg>
